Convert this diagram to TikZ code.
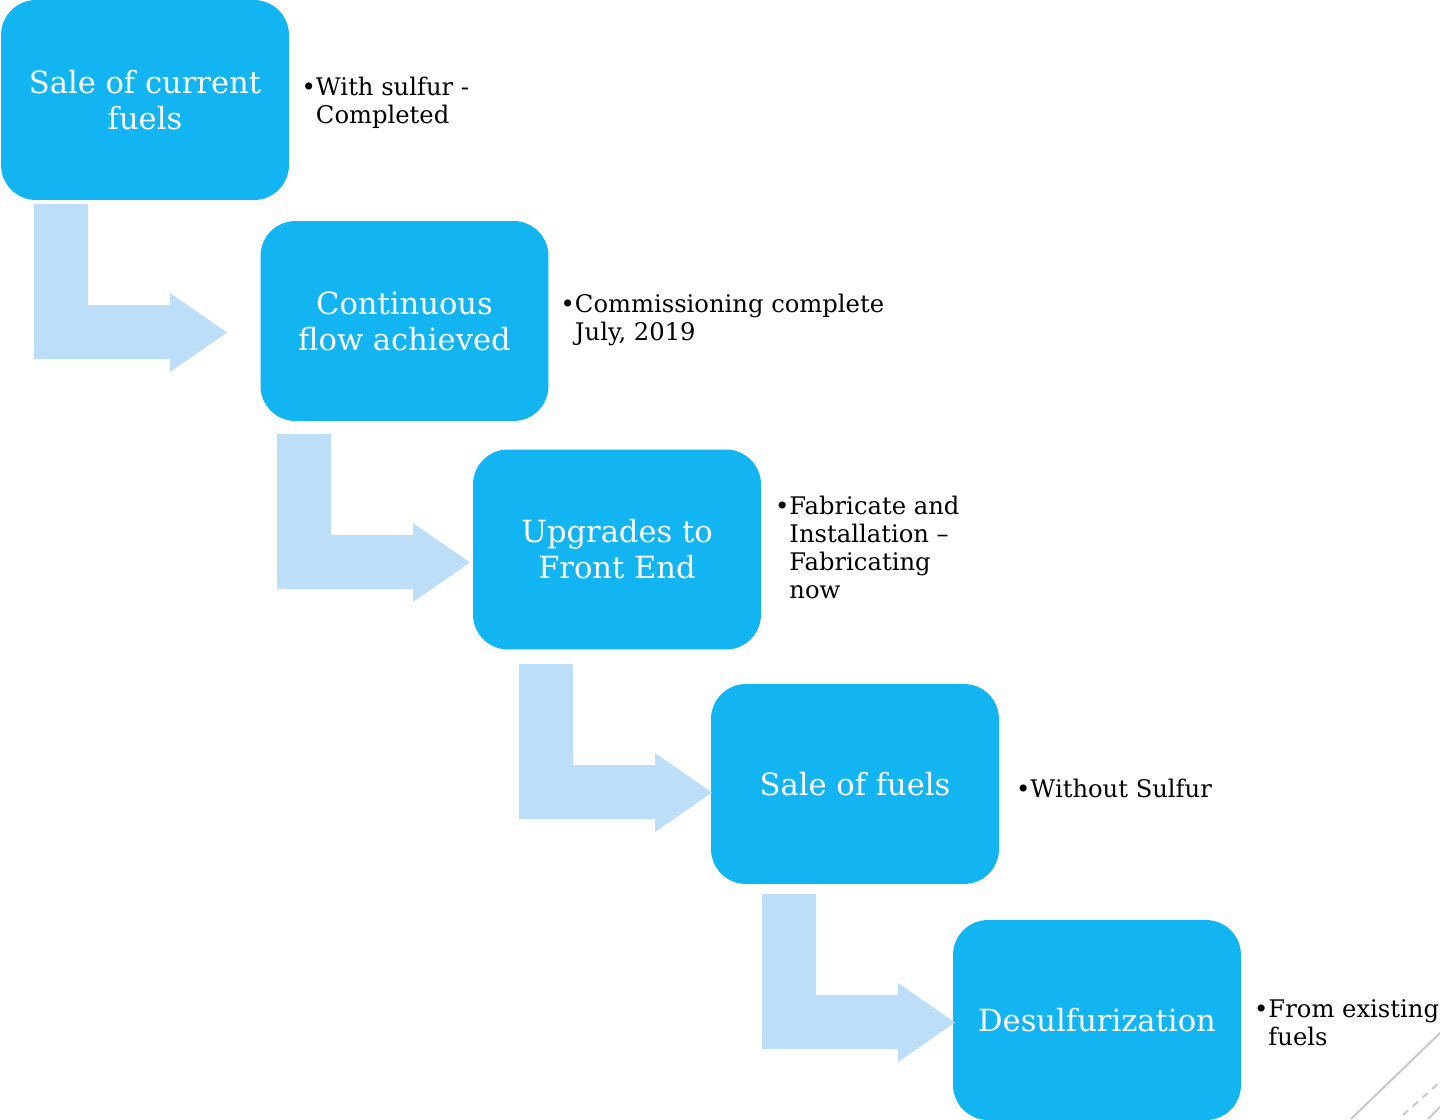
\documentclass[tikz,border=0pt]{standalone}
\usepackage{fontspec}
\setmainfont{DejaVu Serif}
\usetikzlibrary{positioning}
\definecolor{stageblue}{HTML}{12B5F2}
\definecolor{arrowblue}{HTML}{BDDEF8}
\definecolor{decogray}{HTML}{C8C8C8}
\tikzstyle{stage} = [rectangle, rounded corners=0.7cm, minimum width=5.76cm, minimum height=4cm, align=center, fill=stageblue, text=white, font=\fontsize{17.4}{20.5}\selectfont]
\tikzstyle{note} = [inner sep=0pt, align=left, font=\fontsize{13.8}{16}\selectfont]
\tikzstyle{bentarrow} = [fill=arrowblue]
\tikzstyle{deco} = [draw=decogray, line width=0.04cm]
\newcommand{\bul}{\textbullet}

\begin{document}
\begin{tikzpicture}[x=0.02cm, y=-0.02cm]
    \clip (0,0) rectangle (1440,1119);

    % stages
    \node (sale1) [stage] at (145,100) {Sale of current\\fuels};
    \node (flow) [stage] at (404.5,321) {Continuous\\flow achieved};
    \node (upgrade) [stage] at (617,549.5) {Upgrades to\\Front End};
    \node (sale2) [stage] at (855,784) {Sale of fuels};
    \node (desulf) [stage] at (1097,1020) {Desulfurization};

    % notes
    \node (n1) [note, right=0.24cm of sale1, yshift=-0.06cm] {\bul{}With sulfur -\\\phantom{\bul}Completed};
    \node (n2) [note, right=0.23cm of flow, yshift=0.02cm] {\bul{}Commissioning complete\\\phantom{\bul}July, 2019};
    \node (n3) [note, right=0.27cm of upgrade, yshift=0.04cm] {\bul{}Fabricate and\\\phantom{\bul}Installation --\\\phantom{\bul}Fabricating\\\phantom{\bul}now};
    \node (n4) [note, right=0.33cm of sale2, yshift=-0.08cm] {\bul{}Without Sulfur};
    \node (n5) [note, right=0.25cm of desulf, yshift=-0.06cm] {\bul{}From existing\\\phantom{\bul}fuels};

    % bent arrows
    \foreach \ox/\oy in {34/204, 277/434, 519/664, 762/894}
        \fill [bentarrow, shift={(\ox,\oy)}] (0,0) -- (54,0) -- (54,101) -- (136,101) -- (136,89)
            -- (193,128.5) -- (136,168) -- (136,155) -- (0,155) -- cycle;

    % corner lines
    \draw [deco] (1351,1119) -- (1440,1033);
    \draw [deco] (1428,1119) -- (1440,1107);
    \draw [deco, dash pattern=on 0.14cm off 0.12cm] (1403,1115) -- (1440,1082);
\end{tikzpicture}
\end{document}
